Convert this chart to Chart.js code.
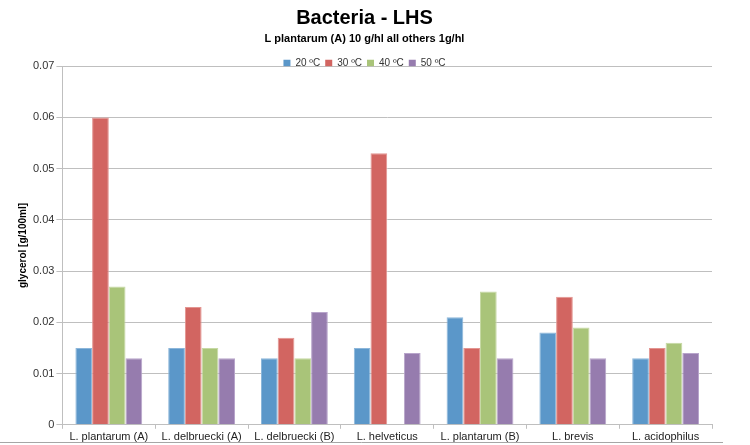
<!DOCTYPE html>
<html>
<head>
<meta charset="utf-8">
<script src="https://cdn.jsdelivr.net/npm/chart.js@4"></script>
<style>
  body { margin: 0; background: #fff; }
  #wrap { width: 750px; height: 445px; position: relative; }
</style>
</head>
<body>
<div id="wrap"><canvas id="bacteriaChart" width="750" height="445"></canvas></div>
<script>
// bacteria strains on the x axis
const categories = ['L. plantarum (A)', 'L. delbruecki (A)', 'L. delbruecki (B)', 'L. helveticus',
                    'L. plantarum (B)', 'L. brevis', 'L. acidophilus'];
// glycerol g/100ml per temperature
const temp20 = [0.015, 0.015, 0.013, 0.015, 0.021, 0.018, 0.013];
const temp30 = [0.060, 0.023, 0.017, 0.053, 0.015, 0.025, 0.015];
const temp40 = [0.027, 0.015, 0.013, null, 0.026, 0.019, 0.016];
const temp50 = [0.013, 0.013, 0.022, 0.014, 0.013, 0.013, 0.014];
const yTicks = [0, 0.01, 0.02, 0.03, 0.04, 0.05, 0.06, 0.07];

const font = 'Liberation Sans, Arial, sans-serif';

// grey frame line along the bottom, like the exported chart
const framePlugin = {
    id: 'frame',
    afterDraw: function(chart) {
        const ctx = chart.ctx;
        ctx.save();
        ctx.strokeStyle = '#a6a6a6';
        ctx.lineWidth = 1;
        ctx.beginPath();
        ctx.moveTo(0, 442.5);
        ctx.lineTo(723, 442.5);
        ctx.stroke();
        ctx.restore();
    }
};

// legend sits right on top of the plot, so take back some of its box height
const legendTight = {
    id: 'legendTight',
    beforeInit: function(chart) {
        const origFit = chart.legend.fit;
        chart.legend.fit = function() {
            origFit.bind(chart.legend)();
            this.height -= 12;
        };
    }
};

const ctx = document.getElementById('bacteriaChart').getContext('2d');
new Chart(ctx, {
    type: 'bar',
    data: {
        labels: categories,
        datasets: [
            { label: '20 ºC', data: temp20, backgroundColor: '#5b97c9', borderColor: '#8cb6da' },
            { label: '30 ºC', data: temp30, backgroundColor: '#d26561', borderColor: '#e39591' },
            { label: '40 ºC', data: temp40, backgroundColor: '#a9c479', borderColor: '#c6d9a4' },
            { label: '50 ºC', data: temp50, backgroundColor: '#967cae', borderColor: '#b8a5cb' }
        ]
    },
    options: {
        responsive: false,
        animation: false,
        layout: { padding: { left: 17, right: 38, top: 6, bottom: -1 } },
        datasets: { bar: { categoryPercentage: 0.72, barPercentage: 1.0, borderWidth: 1 } },
        plugins: {
            title: {
                display: true,
                text: 'Bacteria - LHS',
                color: '#000',
                font: { family: font, size: 20, weight: 'bold' },
                padding: { top: 0, bottom: 2 }
            },
            subtitle: {
                display: true,
                text: 'L plantarum (A) 10 g/hl all others 1g/hl',
                color: '#000',
                font: { family: font, size: 11, weight: 'bold' },
                padding: { top: 0, bottom: 8 }
            },
            legend: {
                position: 'top',
                labels: {
                    boxWidth: 7,
                    boxHeight: 7,
                    padding: 5,
                    color: '#333',
                    font: { family: font, size: 10 },
                    // legend squares without the lighter bar edge
                    generateLabels: function(chart) {
                        return Chart.defaults.plugins.legend.labels.generateLabels(chart).map(function(item) {
                            item.lineWidth = 0;
                            return item;
                        });
                    }
                }
            },
            tooltip: { enabled: false }
        },
        scales: {
            x: {
                grid: {
                    offset: true,
                    drawOnChartArea: false,
                    color: '#bfbfbf',
                    tickLength: 4
                },
                border: { color: '#bfbfbf' },
                ticks: {
                    color: '#222',
                    padding: 2,
                    font: { family: font, size: 11 },
                    maxRotation: 0,
                    autoSkip: false
                }
            },
            y: {
                min: 0,
                max: 0.07,
                afterBuildTicks: function(axis) {
                    axis.ticks = yTicks.map(function(v) { return { value: v }; });
                },
                grid: { color: '#bfbfbf', tickLength: 6 },
                border: { color: '#bfbfbf' },
                ticks: {
                    color: '#333',
                    padding: 2,
                    font: { family: font, size: 11 },
                    callback: function(v) { return v === 0 ? '0' : v.toFixed(2); }
                },
                title: {
                    display: true,
                    text: 'glycerol [g/100ml]',
                    color: '#000',
                    font: { family: font, size: 10, weight: 'bold' },
                    padding: { top: 0, bottom: 2 }
                }
            }
        }
    },
    plugins: [framePlugin, legendTight]
});
</script>
</body>
</html>
